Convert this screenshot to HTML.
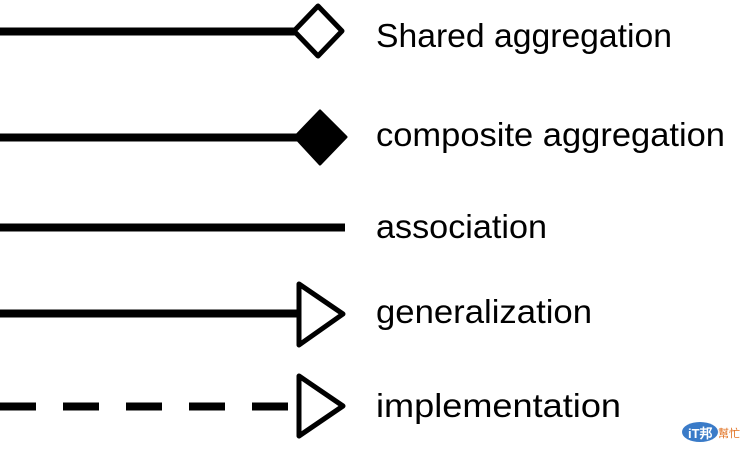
<!DOCTYPE html>
<html><head><meta charset="utf-8"><style>
html,body{margin:0;padding:0;background:#fff;}
svg{display:block}
text{font-family:"Liberation Sans",sans-serif;font-size:33px;fill:#000}
</style></head><body>
<svg width="750" height="451" viewBox="0 0 750 451" xmlns="http://www.w3.org/2000/svg">
<line x1="0" y1="31.5" x2="295" y2="31.5" stroke="#000" stroke-width="8"/>
<polygon points="294,31 318,6 342,31 318,56" fill="#fff" stroke="#000" stroke-width="5" stroke-linejoin="round"/>
<text x="376" y="47" textLength="296" lengthAdjust="spacingAndGlyphs">Shared aggregation</text>
<line x1="0" y1="137.5" x2="300" y2="137.5" stroke="#000" stroke-width="8"/>
<polygon points="295,137 320,111 346,137 320,164" fill="#000" stroke="#000" stroke-width="3" stroke-linejoin="round"/>
<text x="376" y="146" textLength="349" lengthAdjust="spacingAndGlyphs">composite aggregation</text>
<line x1="0" y1="227.5" x2="345" y2="227.5" stroke="#000" stroke-width="8"/>
<text x="376" y="238" textLength="171" lengthAdjust="spacingAndGlyphs">association</text>
<line x1="0" y1="313.5" x2="299" y2="313.5" stroke="#000" stroke-width="8"/>
<polygon points="299,284 343,314 299,345" fill="#fff" stroke="#000" stroke-width="5" stroke-linejoin="round"/>
<text x="376" y="323" textLength="216" lengthAdjust="spacingAndGlyphs">generalization</text>
<line x1="0" y1="406.5" x2="289" y2="406.5" stroke="#000" stroke-width="8" stroke-dasharray="36,27"/>
<polygon points="299,376 343,406 299,436" fill="#fff" stroke="#000" stroke-width="5" stroke-linejoin="round"/>
<text x="376" y="417" textLength="245" lengthAdjust="spacingAndGlyphs">implementation</text>
<ellipse cx="700" cy="432" rx="18" ry="10" fill="#3a7bc8"/>
<text x="688" y="438" style="font-size:13px;fill:#fff;font-weight:bold">iT邦</text>
<text x="718" y="437" style="font-size:11px;fill:#e07020;font-family:'Liberation Sans','Noto Sans CJK TC',sans-serif">幫忙</text>
</svg>
</body></html>
